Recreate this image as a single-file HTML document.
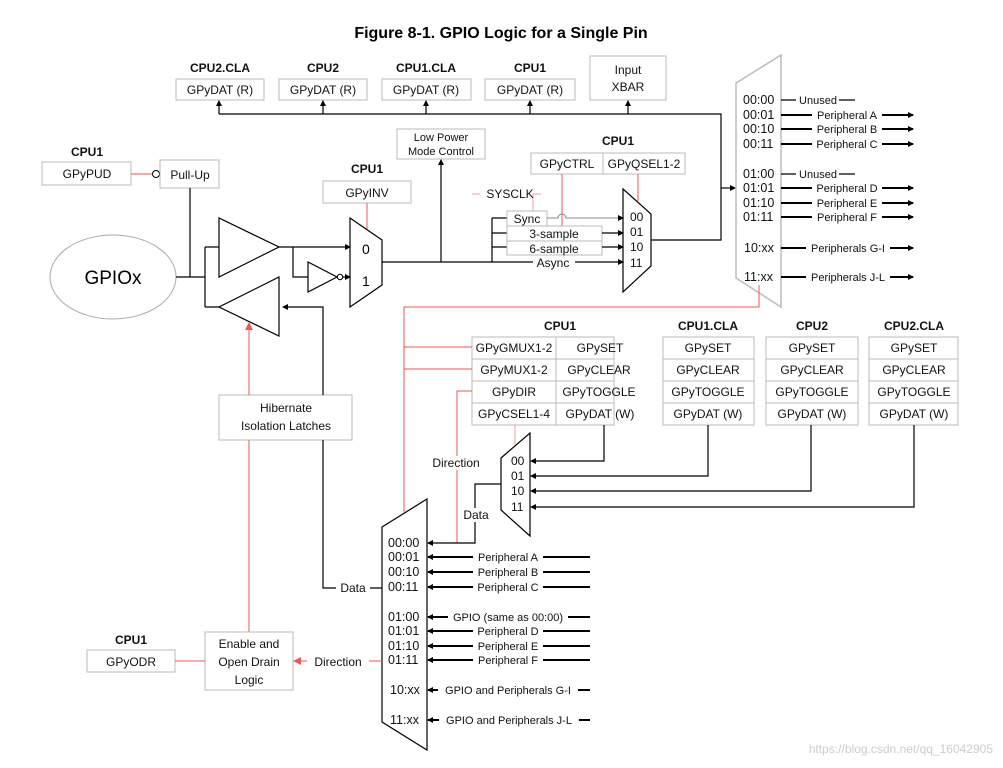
<!DOCTYPE html>
<html><head><meta charset="utf-8"><style>
body{margin:0;background:#fff}
svg{display:block;font-family:"Liberation Sans",sans-serif}
.b{fill:none;stroke:#bbb;stroke-width:1}
.k{fill:none;stroke:#000;stroke-width:1.2}
.r{fill:none;stroke:#e55;stroke-width:1}
.t{font-size:12px;fill:#111}
.s{font-size:11px;fill:#111}
.h{font-size:12px;font-weight:bold;fill:#111}
.m{font-size:12.5px;fill:#111}
</style></head><body>
<svg width="1003" height="768" viewBox="0 0 1003 768">
<defs>
<marker id="a" markerUnits="userSpaceOnUse" markerWidth="6" markerHeight="6" refX="5" refY="3" orient="auto"><path d="M0,0L6,3L0,6z" fill="#000"/></marker>
<marker id="ra" markerUnits="userSpaceOnUse" markerWidth="8" markerHeight="8" refX="7" refY="4" orient="auto"><path d="M0,0L8,4L0,8z" fill="#e55"/></marker>
</defs>
<text x="501" y="38" text-anchor="middle" font-size="16" font-weight="bold">Figure 8-1. GPIO Logic for a Single Pin</text>

<g text-anchor="middle">
<text class="h" x="220" y="72">CPU2.CLA</text><rect class="b" x="176" y="79" width="88" height="21"/><text class="t" x="220" y="94">GPyDAT (R)</text>
<text class="h" x="323" y="72">CPU2</text><rect class="b" x="279" y="79" width="88" height="21"/><text class="t" x="323" y="94">GPyDAT (R)</text>
<text class="h" x="426" y="72">CPU1.CLA</text><rect class="b" x="382" y="79" width="89" height="21"/><text class="t" x="426" y="94">GPyDAT (R)</text>
<text class="h" x="530" y="72">CPU1</text><rect class="b" x="485" y="79" width="90" height="21"/><text class="t" x="530" y="94">GPyDAT (R)</text>
<rect class="b" x="590" y="56" width="76" height="44"/><text class="t" x="628" y="74">Input</text><text class="t" x="628" y="91">XBAR</text>
</g>
<path class="k" d="M219,114H721V240H651"/>
<path class="k" d="M219,114V101" marker-end="url(#a)"/><path class="k" d="M323,114V101" marker-end="url(#a)"/><path class="k" d="M426,114V101" marker-end="url(#a)"/><path class="k" d="M530,114V101" marker-end="url(#a)"/><path class="k" d="M628,114V101" marker-end="url(#a)"/>
<path class="k" d="M721,188H735" marker-end="url(#a)"/>

<path d="M736,83L781,55V307L736,278Z" fill="none" stroke="#bbb" stroke-width="1.5"/>
<g class="m">
<text x="743" y="104">00:00</text><text x="743" y="119">00:01</text><text x="743" y="133">00:10</text><text x="743" y="148">00:11</text>
<text x="743" y="178">01:00</text><text x="743" y="192">01:01</text><text x="743" y="207">01:10</text><text x="743" y="221">01:11</text>
<text x="744" y="252">10:xx</text><text x="744" y="281">11:xx</text>
</g>
<g class="k" stroke-width="2">
<path d="M781,100H796M839,100H855"/><path d="M781,174H796M839,174H855"/>
</g>
<g fill="none" stroke="#000" stroke-width="2">
<path d="M781,115H913" marker-end="url(#a)"/><path d="M781,129H913" marker-end="url(#a)"/><path d="M781,144H913" marker-end="url(#a)"/>
<path d="M781,188H913" marker-end="url(#a)"/><path d="M781,203H913" marker-end="url(#a)"/><path d="M781,217H913" marker-end="url(#a)"/>
<path d="M781,248H913" marker-end="url(#a)"/><path d="M781,277H913" marker-end="url(#a)"/>
</g>
<g class="s" text-anchor="middle">
<rect x="796" y="93" width="43" height="12" fill="#fff"/><text x="818" y="104">Unused</text>
<rect x="796" y="167" width="43" height="12" fill="#fff"/><text x="818" y="178">Unused</text>
<rect x="812" y="108" width="70" height="12" fill="#fff"/><text x="847" y="119">Peripheral A</text>
<rect x="812" y="122" width="70" height="12" fill="#fff"/><text x="847" y="133">Peripheral B</text>
<rect x="812" y="137" width="70" height="12" fill="#fff"/><text x="847" y="148">Peripheral C</text>
<rect x="812" y="181" width="70" height="12" fill="#fff"/><text x="847" y="192">Peripheral D</text>
<rect x="812" y="196" width="70" height="12" fill="#fff"/><text x="847" y="207">Peripheral E</text>
<rect x="812" y="210" width="70" height="12" fill="#fff"/><text x="847" y="221">Peripheral F</text>
<rect x="806" y="241" width="84" height="12" fill="#fff"/><text x="848" y="252">Peripherals G-I</text>
<rect x="806" y="270" width="84" height="12" fill="#fff"/><text x="848" y="281">Peripherals J-L</text>
</g>
<path class="r" d="M759,285V307H404V512"/>

<text class="h" x="87" y="156" text-anchor="middle">CPU1</text>
<rect class="b" x="42" y="162" width="89" height="23"/><text class="t" x="87" y="178" text-anchor="middle">GPyPUD</text>
<path class="r" d="M131,174H152"/><circle cx="156" cy="174" r="3.5" fill="#fff" stroke="#000"/>
<rect class="b" x="160" y="160" width="59" height="28"/><text class="t" x="190" y="179" text-anchor="middle">Pull-Up</text>
<ellipse cx="113" cy="277" rx="63" ry="42" fill="none" stroke="#aaa"/>
<text x="113" y="284" text-anchor="middle" font-size="19">GPIOx</text>
<path class="k" d="M176,277H205M190,188V277M205,247V307M205,247H219M205,307H219"/>
<path class="k" d="M219,218V277L279,247Z"/>
<path class="k" d="M279,277V336L219,307Z"/>
<path class="k" d="M279,247H350" marker-end="url(#a)"/>
<path class="k" d="M293,247V277H308"/>
<path class="k" d="M308,262V292L337,277Z"/><circle cx="340" cy="277" r="2.7" fill="#fff" stroke="#000"/>
<path class="k" d="M343,277H350" marker-end="url(#a)"/>
<path class="k" d="M350,218L382,240V285L350,307Z"/>
<text x="362" y="254" font-size="14">0</text><text x="362" y="286" font-size="14">1</text>
<text class="h" x="367" y="173" text-anchor="middle">CPU1</text>
<rect class="b" x="323" y="181" width="88" height="22"/><text class="t" x="367" y="197" text-anchor="middle">GPyINV</text>
<path class="r" d="M367,203V229"/>
<path class="k" d="M382,262H623" marker-end="url(#a)"/>
<rect class="b" x="397" y="129" width="88" height="30"/>
<text class="s" x="441" y="141" text-anchor="middle">Low Power</text><text class="s" x="441" y="155" text-anchor="middle">Mode Control</text>
<path class="k" d="M441,262V160" marker-end="url(#a)"/>

<text class="h" x="618" y="145" text-anchor="middle">CPU1</text>
<rect class="b" x="531" y="153" width="72" height="21"/><rect class="b" x="603" y="153" width="82" height="21"/>
<text class="t" x="567" y="168" text-anchor="middle">GPyCTRL</text><text class="t" x="644" y="168" text-anchor="middle">GPyQSEL1-2</text>
<path class="r" d="M562,174V226"/><path class="r" d="M638,174V201"/>
<path d="M472,194H480M541,194H533V211" fill="none" stroke="#f0a0a0"/>
<text class="t" x="510" y="198" text-anchor="middle">SYSCLK</text>
<path class="k" d="M492,218V262M492,218H507M492,233H507M492,247H507"/>
<rect class="b" x="507" y="211" width="40" height="15"/><text class="t" x="527" y="223" text-anchor="middle">Sync</text>
<rect class="b" x="507" y="226" width="95" height="15"/><text class="t" x="554" y="238" text-anchor="middle">3-sample</text>
<rect class="b" x="507" y="241" width="95" height="14"/><text class="t" x="554" y="253" text-anchor="middle">6-sample</text>
<path d="M547,218H558A4,4 0 0 1 566,218H623" fill="none" stroke="#888" marker-end="url(#a)"/>
<path class="k" d="M602,233H623" marker-end="url(#a)"/><path class="k" d="M602,247H623" marker-end="url(#a)"/>
<rect x="533" y="256" width="42" height="13" fill="#fff"/><text class="t" x="553" y="267" text-anchor="middle">Async</text>
<path class="k" d="M623,189L651,214V266L623,292Z"/>
<g class="t"><text x="630" y="221">00</text><text x="630" y="236">01</text><text x="630" y="251">10</text><text x="630" y="267">11</text></g>

<g text-anchor="middle">
<text class="h" x="560" y="330">CPU1</text>
<g class="b"><rect x="472" y="337" width="84" height="88"/><rect x="556" y="337" width="58" height="88"/><path d="M472,359H614M472,381H614M472,403H614"/></g>
<g class="t"><text x="514" y="352">GPyGMUX1-2</text><text x="514" y="374">GPyMUX1-2</text><text x="514" y="396">GPyDIR</text><text x="514" y="418">GPyCSEL1-4</text>
<text x="600" y="352">GPySET</text><text x="599" y="374">GPyCLEAR</text><text x="599" y="396">GPyTOGGLE</text><text x="600" y="418">GPyDAT (W)</text></g>
<text class="h" x="708" y="330">CPU1.CLA</text>
<text class="h" x="812" y="330">CPU2</text>
<text class="h" x="914" y="330">CPU2.CLA</text>
<g class="b"><rect x="663" y="337" width="91" height="88"/><path d="M663,359H754M663,381H754M663,403H754"/>
<rect x="766" y="337" width="92" height="88"/><path d="M766,359H858M766,381H858M766,403H858"/>
<rect x="869" y="337" width="89" height="88"/><path d="M869,359H958M869,381H958M869,403H958"/></g>
<g class="t">
<text x="708" y="352">GPySET</text><text x="708" y="374">GPyCLEAR</text><text x="708" y="396">GPyTOGGLE</text><text x="708" y="418">GPyDAT (W)</text>
<text x="812" y="352">GPySET</text><text x="812" y="374">GPyCLEAR</text><text x="812" y="396">GPyTOGGLE</text><text x="812" y="418">GPyDAT (W)</text>
<text x="914" y="352">GPySET</text><text x="914" y="374">GPyCLEAR</text><text x="914" y="396">GPyTOGGLE</text><text x="914" y="418">GPyDAT (W)</text>
</g></g>
<path class="r" d="M404,347H472M404,369H472"/>
<path class="r" d="M472,391H457V543"/>
<path d="M515,425V445" fill="none" stroke="#f0a0a0"/>
<path class="k" d="M501,458L530,433V536L501,510Z"/>
<g class="t"><text x="511" y="465">00</text><text x="511" y="480">01</text><text x="511" y="495">10</text><text x="511" y="511">11</text></g>
<path class="k" d="M604,425V461H531" marker-end="url(#a)"/>
<path class="k" d="M708,425V476H531" marker-end="url(#a)"/>
<path class="k" d="M811,425V491H531" marker-end="url(#a)"/>
<path class="k" d="M914,425V507H531" marker-end="url(#a)"/>
<rect x="425" y="456" width="64" height="14" fill="#fff"/><text class="t" x="456" y="467" text-anchor="middle">Direction</text>
<path class="k" d="M501,484H475V543H428" marker-end="url(#a)"/>
<rect x="459" y="508" width="34" height="14" fill="#fff"/><text class="t" x="476" y="519" text-anchor="middle">Data</text>

<path class="k" d="M382,527L427,499V750L382,722Z"/>
<g class="m">
<text x="388" y="547">00:00</text><text x="388" y="561">00:01</text><text x="388" y="576">00:10</text><text x="388" y="591">00:11</text>
<text x="388" y="621">01:00</text><text x="388" y="635">01:01</text><text x="388" y="650">01:10</text><text x="388" y="664">01:11</text>
<text x="390" y="694">10:xx</text><text x="390" y="724">11:xx</text>
</g>
<g fill="none" stroke="#000" stroke-width="2">
<path d="M590,557H428" marker-end="url(#a)"/><path d="M590,572H428" marker-end="url(#a)"/><path d="M590,587H428" marker-end="url(#a)"/>
<path d="M590,617H428" marker-end="url(#a)"/><path d="M590,631H428" marker-end="url(#a)"/><path d="M590,646H428" marker-end="url(#a)"/><path d="M590,660H428" marker-end="url(#a)"/>
<path d="M590,690H428" marker-end="url(#a)"/><path d="M590,720H428" marker-end="url(#a)"/>
</g>
<g class="s" text-anchor="middle">
<rect x="473" y="550" width="70" height="12" fill="#fff"/><text x="508" y="561">Peripheral A</text>
<rect x="473" y="565" width="70" height="12" fill="#fff"/><text x="508" y="576">Peripheral B</text>
<rect x="473" y="580" width="70" height="12" fill="#fff"/><text x="508" y="591">Peripheral C</text>
<rect x="448" y="610" width="120" height="12" fill="#fff"/><text x="508" y="621">GPIO (same as 00:00)</text>
<rect x="473" y="624" width="70" height="12" fill="#fff"/><text x="508" y="635">Peripheral D</text>
<rect x="473" y="639" width="70" height="12" fill="#fff"/><text x="508" y="650">Peripheral E</text>
<rect x="473" y="653" width="70" height="12" fill="#fff"/><text x="508" y="664">Peripheral F</text>
<rect x="438" y="683" width="140" height="12" fill="#fff"/><text x="508" y="694">GPIO and Peripherals G-I</text>
<rect x="439" y="713" width="140" height="12" fill="#fff"/><text x="509" y="724">GPIO and Peripherals J-L</text>
</g>

<rect class="b" x="219" y="395" width="133" height="45"/>
<text class="t" x="286" y="412" text-anchor="middle">Hibernate</text><text class="t" x="286" y="430" text-anchor="middle">Isolation Latches</text>
<path class="k" d="M323,395V307H283" marker-end="url(#a)"/>
<path class="k" d="M323,440V588H382"/>
<rect x="336" y="581" width="34" height="14" fill="#fff"/><text class="t" x="353" y="592" text-anchor="middle">Data</text>
<path class="r" d="M249,632V440"/><path class="r" d="M249,395V323" marker-end="url(#ra)"/>
<rect class="b" x="205" y="632" width="88" height="58"/>
<text class="t" x="249" y="648" text-anchor="middle">Enable and</text><text class="t" x="249" y="666" text-anchor="middle">Open Drain</text><text class="t" x="249" y="684" text-anchor="middle">Logic</text>
<text class="h" x="131" y="644" text-anchor="middle">CPU1</text>
<rect class="b" x="87" y="650" width="88" height="22"/><text class="t" x="131" y="666" text-anchor="middle">GPyODR</text>
<path class="r" d="M175,661H205"/>
<path class="r" d="M382,661H294" marker-end="url(#ra)"/>
<rect x="307" y="654" width="62" height="14" fill="#fff"/><text class="t" x="338" y="666" text-anchor="middle">Direction</text>

<text x="993" y="753" text-anchor="end" font-size="12" fill="#ccc">https://blog.csdn.net/qq_16042905</text>
</svg>
</body></html>
